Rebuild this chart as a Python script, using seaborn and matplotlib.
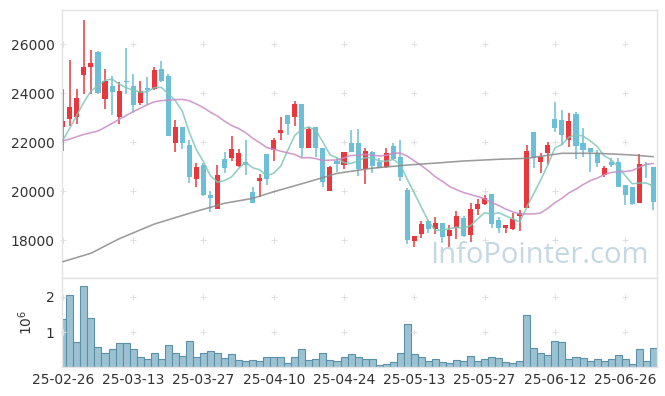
import numpy as np
import pandas as pd
import matplotlib
matplotlib.use("Agg")
import matplotlib.pyplot as plt
import seaborn as sns

# ----------------------------
# Data (daily OHLC, volume in millions of shares)
# ----------------------------
tick_pos = [0, 10, 20, 30, 40, 50, 60, 70, 80]
tick_labels = ["25-02-26", "25-03-13", "25-03-27", "25-04-10", "25-04-24",
               "25-05-13", "25-05-27", "25-06-12", "25-06-26"]

opens = [22625, 22930, 23030, 24735, 25060, 25670, 23770, 24285, 23035, 24490,
         24285, 23605, 24205, 24150, 24980, 24705, 21950, 22625, 21880, 20480,
         21060, 19840, 19265, 21305, 21360, 21020, 21195, 19945, 20410, 21500,
         21675, 22380, 23100, 23035, 23550, 21765, 22600, 21745, 20010, 21225,
         21060, 21970, 21970, 20885, 21580, 21195, 20965, 21835, 21375, 20040,
         17970, 18235, 18790, 18435, 18680, 18176, 18500, 18910, 18204, 19253,
         19469, 19878, 18816, 18478, 18449, 18980, 19318, 22408, 21171, 21563,
         22951, 22898, 22069, 23143, 21959, 21743, 21563, 20667, 21184, 21184,
         20245, 20176, 19531, 21102, 20980]
highs = [24160, 25350, 24160, 26980, 25770, 25700, 24970, 24705, 24460, 25825,
         24765, 24490, 24655, 25075, 25305, 24775, 22900, 22625, 22080, 21130,
         21155, 20000, 21060, 21580, 22255, 21715, 22095, 20175, 20680, 21500,
         22175, 23035, 23100, 23675, 23550, 22625, 22625, 21765, 21035, 21400,
         21600, 22490, 22520, 21745, 21645, 21335, 21745, 21945, 22080, 20110,
         18165, 18790, 18815, 18925, 18700, 18612, 19196, 18980, 19498, 19661,
         19837, 19878, 18951, 18620, 19090, 19224, 21878, 22408, 21539, 22012,
         23645, 23318, 23171, 23237, 22592, 21760, 21673, 21020, 21335, 21335,
         20245, 20176, 21510, 21196, 20980]
lows = [21630, 22650, 22720, 23970, 23950, 23980, 23335, 23100, 22720, 23970,
        23195, 23510, 23510, 24120, 24460, 22255, 21605, 21700, 20315, 20175,
        19810, 19155, 19265, 20720, 21225, 20990, 20655, 19500, 19765, 20245,
        21225, 22080, 22285, 22665, 21400, 21745, 21375, 20175, 20000, 20790,
        20900, 21590, 20625, 20275, 20720, 20950, 20950, 21265, 20420, 17835,
        17700, 18070, 18275, 18245, 17865, 17727, 18029, 18110, 17931, 19020,
        19429, 18478, 18298, 18273, 18408, 18380, 19318, 20927, 20747, 21061,
        22420, 21878, 21808, 21306, 21388, 20776, 20992, 20584, 21000, 20150,
        19429, 19430, 19510, 20518, 19224]
closes = [22860, 23430, 23800, 25075, 25225, 24000, 24490, 24055, 24080, 24440,
          23520, 24080, 24110, 24940, 24500, 22255, 22625, 21970, 20585, 20990,
          19840, 19730, 20655, 20925, 21715, 21550, 21060, 19500, 20520, 20480,
          22080, 22500, 22745, 23540, 21765, 22530, 21765, 20380, 20965, 21100,
          21580, 21605, 20900, 21635, 21035, 20950, 21540, 21295, 20585, 18000,
          18165, 18655, 18450, 18680, 18110, 18408, 18980, 18176, 19253, 19469,
          19702, 18653, 18502, 18600, 18857, 19090, 21633, 21335, 21400, 21878,
          22571, 22286, 22865, 21845, 21673, 21592, 21143, 20939, 21061, 20176,
          19837, 19457, 21102, 21061, 19563]
volume = [1.36, 2.05, 0.72, 2.30, 1.39, 0.57, 0.40, 0.51, 0.68, 0.68,
          0.51, 0.28, 0.23, 0.42, 0.23, 0.62, 0.42, 0.31, 0.74, 0.28,
          0.40, 0.45, 0.40, 0.25, 0.37, 0.20, 0.17, 0.20, 0.17, 0.28,
          0.28, 0.28, 0.11, 0.28, 0.51, 0.20, 0.23, 0.42, 0.20, 0.18,
          0.28, 0.37, 0.28, 0.23, 0.23, 0.06, 0.08, 0.14, 0.40, 1.22,
          0.37, 0.28, 0.17, 0.23, 0.14, 0.11, 0.20, 0.17, 0.31, 0.17,
          0.23, 0.28, 0.25, 0.14, 0.11, 0.17, 1.50, 0.54, 0.42, 0.34,
          0.74, 0.71, 0.23, 0.28, 0.25, 0.17, 0.23, 0.17, 0.23, 0.34,
          0.23, 0.08, 0.51, 0.17, 0.54]

# moving-average values before enough history is on screen
ma5_head = [22080, 22570, 23100, 23630]
ma20_head = [22050, 22120, 22220, 22310, 22380, 22450, 22600, 22760, 22920, 23080,
             23240, 23380, 23520, 23640, 23690, 23710, 23730, 23740, 23680]
# 120-day average, read at a few days
ma120_idx = [0, 4, 8, 13, 18, 23, 27, 30, 35, 39, 44, 49, 54, 57, 62, 66, 71, 76, 81, 84]
ma120_val = [17115, 17460, 18050, 18650, 19090, 19500, 19700, 19970, 20380, 20720,
             20930, 21060, 21160, 21225, 21295, 21335, 21540, 21540, 21470, 21400]

df = pd.DataFrame({"open": opens, "high": highs, "low": lows,
                   "close": closes, "volume": volume})
df["idx"] = np.arange(len(df))
df["ma5"] = df["close"].rolling(5).mean()
df.loc[:len(ma5_head) - 1, "ma5"] = ma5_head
df["ma20"] = df["close"].rolling(20).mean()
df.loc[:len(ma20_head) - 1, "ma20"] = ma20_head
ma120 = pd.DataFrame({"idx": ma120_idx, "ma120": ma120_val})

# ----------------------------
# Plot
# ----------------------------
sns.set_style("white")
plt.rcParams["font.family"] = ["DejaVu Sans"]
plt.rcParams["mathtext.default"] = "regular"

RED = "#e8383d"
BLUE = "#6cbfd7"
txt = "#333333"
edge = "#e3e3e3"

fig = plt.figure(figsize=(6.65, 3.96), dpi=100)
ax1 = fig.add_axes([0.0928, 0.2972, 0.8947, 0.6775])
ax2 = fig.add_axes([0.0928, 0.0725, 0.8947, 0.2247], sharex=ax1)

up = df["close"] >= df["open"]
colors = np.where(up, RED, BLUE)
body_lo = df[["open", "close"]].min(axis=1)
body_h = (df["close"] - df["open"]).abs().clip(lower=40)

ax1.vlines(df["idx"], df["low"], df["high"], colors=colors, linewidth=1.1, zorder=2)
ax1.bar(df["idx"], body_h, bottom=body_lo, width=0.72, color=colors, linewidth=0, zorder=2)

sns.lineplot(data=df, x="idx", y="ma5", ax=ax1, color="#7fc7b8", linewidth=1.15, alpha=0.85, zorder=3)
sns.lineplot(data=df, x="idx", y="ma20", ax=ax1, color="#c98ac5", linewidth=1.15, alpha=0.85, zorder=3)
sns.lineplot(data=ma120, x="idx", y="ma120", ax=ax1, color="#8a8a8a", linewidth=1.15, alpha=0.85, zorder=3)

ax2.bar(df["idx"], df["volume"], width=1.0, color="#9cc2d2", edgecolor="#5b90a9", linewidth=0.8)

# watermark
fig.text(0.8105, 0.356, "InfoPointer.com", fontsize=21, color="#c4d8e3",
         ha="center", va="center", family="Open Sans", zorder=0)

ax1.set_xlim(-0.16, 84.48)
ax1.set_ylim(16437, 27388)
ax2.set_ylim(0, 2.53)

yt1 = [18000, 20000, 22000, 24000, 26000]
ax1.set_yticks(yt1)
ax1.set_yticklabels([str(v) for v in yt1])
ax2.set_yticks([1, 2])
ax2.set_yticklabels(["1", "2"])
ax2.set_xticks(tick_pos)
ax2.set_xticklabels(tick_labels)
ax1.tick_params(axis="x", labelbottom=False, length=0)
ax1.tick_params(axis="y", length=0, pad=5, labelsize=10, colors=txt)
ax2.tick_params(axis="both", length=0, labelsize=10, colors=txt)
ax2.tick_params(axis="x", pad=4)
ax2.tick_params(axis="y", pad=5)

ax1.set_xlabel("")
ax1.set_ylabel("")
ax2.set_xlabel("")
ax2.set_ylabel(r"$10^6$", fontsize=10, color=txt, labelpad=8)

# little '+' grid markers
for ax, yt in [(ax1, yt1), (ax2, [1, 2])]:
    gx, gy = np.meshgrid(tick_pos, yt)
    ax.scatter(gx.ravel(), gy.ravel(), marker="+", s=16, color="#e0e0e0",
               linewidths=0.8, zorder=1, clip_on=False)
    for s in ax.spines.values():
        s.set_color(edge)
        s.set_linewidth(1)

fig.savefig("out.png", dpi=100)
